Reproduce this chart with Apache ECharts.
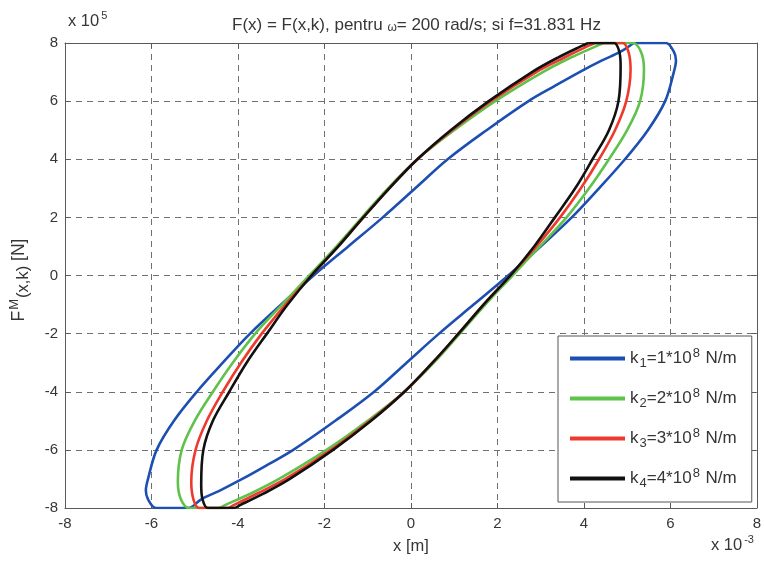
<!DOCTYPE html>
<html>
<head>
<meta charset="utf-8">
<script src="https://cdn.jsdelivr.net/npm/echarts@6/dist/echarts.min.js"></script>
<style>
  html, body { margin: 0; padding: 0; background: #fff; }
  #chart { width: 764px; height: 565px; }
</style>
</head>
<body>
<div id="chart"></div>
<script>
// Axis ticks (x in 1e-3 m, force in 1e5 N)
const xTicks = [-8, -6, -4, -2, 0, 2, 4, 6, 8];
const yTicks = [-8, -6, -4, -2, 0, 2, 4, 6, 8];

// Stiffness values k_i (in 1e8 N/m), one hysteresis loop each
const stiffness = [1, 2, 3, 4];
const seriesNames = ['k1', 'k2', 'k3', 'k4'];

// Loop for k1 = 1e8 N/m, [x, F] pairs, traced clockwise from the top edge
const loopK1 = [
  [5.15, 8], [5.5, 8], [5.9, 8], [6.08, 7.7], [6.13, 7.4], [6.08, 7.0], [5.88, 6], [5.48, 5],
  [4.95, 4], [4.35, 3], [3.72, 2], [3.0, 1], [2.25, 0], [1.45, -1], [0.65, -2], [-0.1, -3],
  [-0.85, -4], [-1.75, -5], [-2.72, -6], [-3.3, -6.5], [-3.9, -7], [-4.42, -7.4], [-4.85, -7.7],
  [-5.15, -8], [-5.5, -8], [-5.9, -8], [-6.08, -7.7], [-6.13, -7.4], [-6.08, -7.0], [-5.88, -6],
  [-5.48, -5], [-4.95, -4], [-4.35, -3], [-3.72, -2], [-3.0, -1], [-2.25, 0], [-1.45, 1],
  [-0.65, 2], [0.1, 3], [0.85, 4], [1.75, 5], [2.72, 6], [3.3, 6.5], [3.9, 7], [4.42, 7.4],
  [4.85, 7.7], [5.15, 8]
];

// Loop for k2 = 2e8 N/m
const loopK2 = [
  [4.45, 8], [4.8, 8], [5.13, 8], [5.32, 7.7], [5.39, 7.1], [5.3, 6], [5.0, 5], [4.58, 4],
  [4.12, 3], [3.6, 2], [2.98, 1], [2.35, 0], [1.72, -1], [1.13, -2], [0.53, -3], [-0.15, -4],
  [-1.0, -5], [-1.95, -6], [-3.05, -7], [-3.7, -7.5], [-4.3, -7.9], [-4.45, -8], [-4.8, -8],
  [-5.13, -8], [-5.32, -7.7], [-5.39, -7.1], [-5.3, -6], [-5.0, -5], [-4.58, -4], [-4.12, -3],
  [-3.6, -2], [-2.98, -1], [-2.35, 0], [-1.72, 1], [-1.13, 2], [-0.53, 3], [0.15, 4], [1.0, 5],
  [1.95, 6], [3.05, 7], [3.7, 7.5], [4.3, 7.9], [4.45, 8]
];

// Loop for k3 = 3e8 N/m
const loopK3 = [
  [4.25, 8], [4.6, 8], [4.9, 8], [5.03, 7.7], [5.08, 7.1], [4.98, 6], [4.72, 5], [4.35, 4],
  [3.93, 3], [3.45, 2], [2.9, 1], [2.3, 0], [1.68, -1], [1.1, -2], [0.5, -3], [-0.15, -4],
  [-0.95, -5], [-1.85, -6], [-2.9, -7], [-3.55, -7.5], [-4.1, -7.9], [-4.25, -8], [-4.6, -8],
  [-4.9, -8], [-5.03, -7.7], [-5.08, -7.1], [-4.98, -6], [-4.72, -5], [-4.35, -4], [-3.93, -3],
  [-3.45, -2], [-2.9, -1], [-2.3, 0], [-1.68, 1], [-1.1, 2], [-0.5, 3], [0.15, 4], [0.95, 5],
  [1.85, 6], [2.9, 7], [3.55, 7.5], [4.1, 7.9], [4.25, 8]
];

// Loop for k4 = 4e8 N/m
const loopK4 = [
  [4.1, 8], [4.4, 8], [4.7, 8], [4.82, 7.7], [4.85, 7.2], [4.8, 6], [4.58, 5], [4.2, 4],
  [3.8, 3], [3.33, 2], [2.85, 1], [2.3, 0], [1.68, -1], [1.1, -2], [0.5, -3], [-0.15, -4],
  [-0.92, -5], [-1.8, -6], [-2.8, -7], [-3.4, -7.5], [-3.95, -7.9], [-4.1, -8], [-4.4, -8],
  [-4.7, -8], [-4.82, -7.7], [-4.85, -7.2], [-4.8, -6], [-4.58, -5], [-4.2, -4], [-3.8, -3],
  [-3.33, -2], [-2.85, -1], [-2.3, 0], [-1.68, 1], [-1.1, 2], [-0.5, 3], [0.15, 4], [0.92, 5],
  [1.8, 6], [2.8, 7], [3.4, 7.5], [3.95, 7.9], [4.1, 8]
];

const loops = [loopK1, loopK2, loopK3, loopK4];
const lineColors = ['#1d4fb3', '#5fc24a', '#ee3a2c', '#111111'];

const FONT = '"Liberation Sans", Arial, sans-serif';
const axisGray = '#5a5a5a';
const textGray = '#363636';

const chart = echarts.init(document.getElementById('chart'), null, { renderer: 'canvas' });

function frameAxis(pos, showLabels) {
  return {
    type: 'value',
    position: pos,
    min: -8, max: 8, interval: 2,
    axisLine: { show: true, onZero: false, lineStyle: { color: axisGray, width: 1 } },
    axisTick: { show: true, inside: true, length: 5, lineStyle: { color: axisGray } },
    axisLabel: showLabels
      ? { show: true, fontFamily: FONT, fontSize: 15, color: textGray }
      : { show: false },
    splitLine: showLabels
      ? { show: true, lineStyle: { color: '#707070', type: [6, 5], width: 1 } }
      : { show: false }
  };
}

const xMain = frameAxis('bottom', true);
xMain.axisLabel.margin = 8;
xMain.axisLabel.formatter = v => (xTicks.includes(v) ? String(v) : '');
xMain.name = 'x [m]';
xMain.nameLocation = 'middle';
xMain.nameGap = 30;
xMain.nameTextStyle = { fontFamily: FONT, fontSize: 16.5, color: textGray };

const yMain = frameAxis('left', true);
yMain.axisLabel.margin = 7;
yMain.axisLabel.formatter = v => (yTicks.includes(v) ? String(v) : '');

const legendLabels = stiffness.map((k, i) =>
  '{t|k}{sub|' + (i + 1) + '}{t|=' + k + '*10}{sup|8}{t| N/m}'
);

const option = {
  animation: false,
  backgroundColor: '#ffffff',
  title: {
    text: '{a|F(x) = F(x,k), pentru }{w|ω}{a|= 200 rad/s; si f=31.831 Hz}',
    left: 227,
    top: 11,
    textStyle: {
      fontWeight: 'normal',
      rich: {
        a: { fontFamily: FONT, fontSize: 17, fontWeight: 'normal', color: textGray },
        w: { fontFamily: FONT, fontSize: 12, fontWeight: 'normal', color: textGray, padding: [6, 0, 0, 0] }
      }
    }
  },
  grid: { left: 65, right: 7, top: 43, bottom: 57, containLabel: false },
  xAxis: [xMain, frameAxis('top', false)],
  yAxis: [yMain, frameAxis('right', false)],
  legend: {
    data: seriesNames,
    orient: 'vertical',
    left: 558,
    top: 336,
    padding: [11, 15, 12, 10],
    itemWidth: 55,
    itemHeight: 20,
    itemGap: 17,
    backgroundColor: '#ffffff',
    borderColor: '#555',
    borderWidth: 1,
    borderRadius: 0,
    lineStyle: { width: 4 },
    itemStyle: { color: 'rgba(0,0,0,0)', borderWidth: 0, opacity: 0 },
    formatter: name => legendLabels[seriesNames.indexOf(name)],
    textStyle: {
      fontFamily: FONT,
      fontSize: 17,
      color: textGray,
      rich: {
        t: { fontFamily: FONT, fontSize: 17, color: textGray },
        sub: { fontFamily: FONT, fontSize: 13, color: textGray, padding: [10, 0, 0, 1] },
        sup: { fontFamily: FONT, fontSize: 13, color: textGray, padding: [0, 1, 10, 1] }
      }
    }
  },
  graphic: [
    {
      type: 'text', left: 68, top: 10,
      style: {
        text: '{a|x 10}{s|5}',
        rich: {
          a: { fontFamily: FONT, fontSize: 16.5, fill: textGray },
          s: { fontFamily: FONT, fontSize: 11, fill: textGray, padding: [0, 0, 12, 2] }
        }
      }
    },
    {
      type: 'text', left: 711, top: 534,
      style: {
        text: '{a|x 10}{s|-3}',
        rich: {
          a: { fontFamily: FONT, fontSize: 16.5, fill: textGray },
          s: { fontFamily: FONT, fontSize: 11, fill: textGray, padding: [0, 0, 12, 2] }
        }
      }
    },
    {
      type: 'text', x: 19, y: 280, rotation: Math.PI / 2,
      style: {
        text: '{a|F}{sup|M}{sub|(x,k)}{a| [N]}',
        align: 'center',
        verticalAlign: 'middle',
        rich: {
          a: { fontFamily: FONT, fontSize: 17.5, fill: textGray },
          sup: { fontFamily: FONT, fontSize: 13, fill: textGray, padding: [0, 1, 10, 1] },
          sub: { fontFamily: FONT, fontSize: 16.5, fill: textGray, padding: [8, 0, 0, 0] }
        }
      }
    }
  ],
  series: loops.map((pts, i) => ({
    name: seriesNames[i],
    type: 'line',
    xAxisIndex: 0,
    yAxisIndex: 0,
    data: pts,
    showSymbol: false,
    symbol: 'none',
    smooth: 0.35,
    clip: true,
    z: 3 + i,
    lineStyle: { color: lineColors[i], width: 2.6 },
    itemStyle: { color: lineColors[i] }
  }))
};

chart.setOption(option);
</script>
</body>
</html>
